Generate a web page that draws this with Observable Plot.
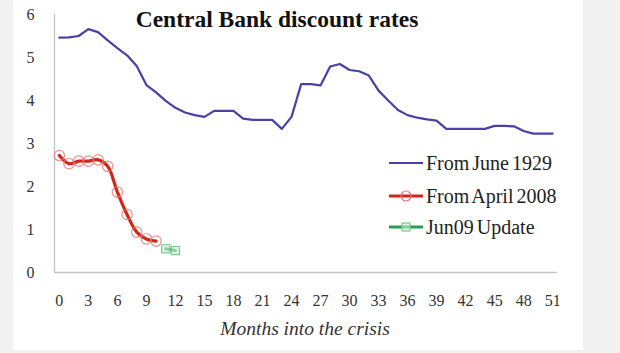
<!DOCTYPE html>
<html>
<head>
<meta charset="utf-8">
<script src="https://cdn.jsdelivr.net/npm/d3@7"></script>
<script src="https://cdn.jsdelivr.net/npm/@observablehq/plot@0.6"></script>
<style>
  html, body { margin: 0; padding: 0; background: #f1f1f1; }
  #wrap { position: relative; width: 620px; height: 353px; overflow: hidden; font-family: "Liberation Serif", "DejaVu Serif", serif; }
  #paper { position: absolute; left: 13px; top: 0; width: 570px; height: 350px; background: #ffffff; }
  #chart { position: absolute; left: 0; top: 0; }
  #title { position: absolute; left: 97px; width: 360px; top: 6px; text-align: center; font-weight: bold; font-size: 23.5px; color: #111; white-space: nowrap; }
  #xtitle { position: absolute; left: 155px; width: 300px; top: 318px; text-align: center; font-style: italic; font-size: 19.5px; color: #333; white-space: nowrap; }
  .leg { position: absolute; left: 389px; height: 24px; display: flex; align-items: center; font-size: 20px; color: #222; white-space: nowrap; word-spacing: -2px; }
  .leg svg { display: block; margin-right: 3px; }
</style>
</head>
<body>
<div id="wrap">
  <div id="paper"></div>
  <div id="chart"></div>
  <div id="title">Central Bank discount rates</div>
  <div id="xtitle">Months into the crisis</div>
  <div id="legend"></div>
</div>
<script>
// ---- data ----
const months1929 = d3.range(0, 52);
const rate1929 = [5.46, 5.47, 5.50, 5.66, 5.59, 5.40, 5.22, 5.05, 4.80, 4.36,
                  4.19, 3.99, 3.83, 3.72, 3.66, 3.62, 3.76, 3.76, 3.76, 3.58,
                  3.55, 3.55, 3.55, 3.34, 3.62, 4.38, 4.38, 4.35, 4.79, 4.85,
                  4.71, 4.68, 4.58, 4.23, 4.00, 3.78, 3.66, 3.60, 3.56, 3.53,
                  3.34, 3.34, 3.34, 3.34, 3.34, 3.41, 3.41, 3.40, 3.29, 3.23,
                  3.23, 3.23];
const months2008 = [0, 1, 2, 3, 4, 5, 6, 7, 8, 9, 10];
const rate2008 = [2.72, 2.53, 2.59, 2.59, 2.62, 2.47, 1.87, 1.35, 0.94, 0.78, 0.73];
const monthsJun09 = [11, 12];
const rateJun09 = [0.55, 0.51];
const xTicks = d3.range(0, 52, 3);
const yTicks = [0, 1, 2, 3, 4, 5, 6];
const seriesNames = ["From June 1929", "From April 2008", "Jun09 Update"];

const colors = { blue: "#4a40a8", red: "#d3261a", redMark: "#e77272", green: "#2f9c50", greenMark: "#78cc8a" };

const s1929 = months1929.map((m, i) => ({ m, v: rate1929[i] }));
const s2008 = months2008.map((m, i) => ({ m, v: rate2008[i] }));
const sJun09 = monthsJun09.map((m, i) => ({ m, v: rateJun09[i] }));

const chart = Plot.plot({
  width: 620,
  height: 353,
  marginLeft: 54,
  marginRight: 63,
  marginTop: 14,
  marginBottom: 81,
  style: { fontFamily: "Liberation Serif", fontSize: "16px", background: "transparent", color: "#333" },
  x: { domain: [-0.5, 51.5], ticks: xTicks, tickSize: 0, tickPadding: 22, tickFormat: d => String(d), label: null },
  y: { domain: [0, 6], ticks: yTicks, tickSize: 0, tickPadding: 20, tickFormat: d => String(d), label: null },
  marks: [
    Plot.ruleY([0], { stroke: "#c4c4c4", strokeWidth: 1.3 }),
    Plot.ruleX([-0.5], { stroke: "#c4c4c4", strokeWidth: 1.3 }),
    Plot.line(s1929, { x: "m", y: "v", stroke: colors.blue, strokeWidth: 2.2 }),
    Plot.line(s2008, { x: "m", y: "v", stroke: colors.red, strokeWidth: 3.2, curve: "catmull-rom" }),
    Plot.dot(s2008, { x: "m", y: "v", r: 5.2, stroke: colors.redMark, strokeWidth: 1.2, strokeOpacity: 0.8, fill: "none" }),
    Plot.line(sJun09, { x: "m", y: "v", stroke: colors.green, strokeWidth: 3 }),
    Plot.dot(sJun09, { x: "m", y: "v", r: 4.6, symbol: "square", stroke: colors.greenMark, strokeWidth: 1.2, fill: "#c9ecd1", fillOpacity: 0.6 })
  ]
});
document.getElementById("chart").appendChild(chart);

// ---- legend ----
const legend = document.getElementById("legend");
const legRows = [
  { name: seriesNames[0], color: colors.blue, width: 2, marker: null, top: 151 },
  { name: seriesNames[1], color: colors.red, width: 3.2, marker: "circle", mcolor: colors.redMark, top: 184 },
  { name: seriesNames[2], color: colors.green, width: 3, marker: "square", mcolor: colors.greenMark, top: 215 }
];
legRows.forEach(r => {
  const div = document.createElement("div");
  div.className = "leg";
  div.style.top = r.top + "px";
  let m = "";
  if (r.marker === "circle") m = `<circle cx="17" cy="12" r="5" fill="none" stroke="${r.mcolor}" stroke-width="1.2"/>`;
  if (r.marker === "square") m = `<rect x="13" y="8" width="8" height="8" fill="#c9ecd1" fill-opacity="0.6" stroke="${r.mcolor}" stroke-width="1.2"/>`;
  div.innerHTML = `<svg width="34" height="24"><line x1="0" x2="34" y1="12" y2="12" stroke="${r.color}" stroke-width="${r.width}"/>${m}</svg><span>${r.name}</span>`;
  legend.appendChild(div);
});
</script>
</body>
</html>
